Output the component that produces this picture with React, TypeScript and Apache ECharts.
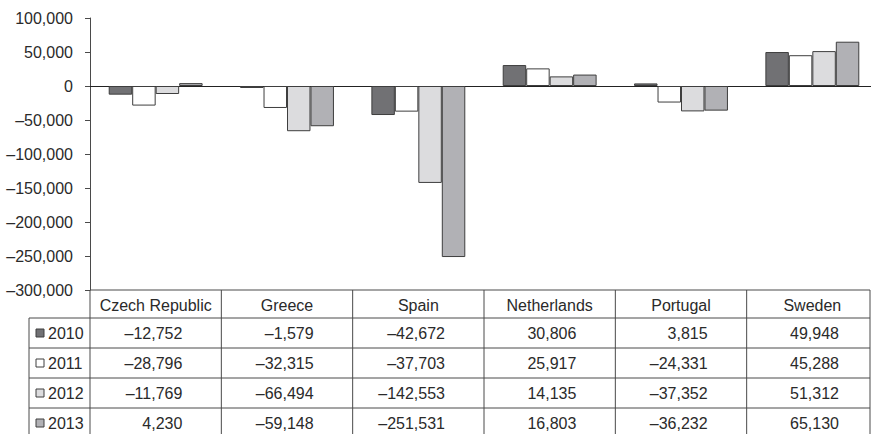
import React, { useEffect, useRef } from "react";
import * as echarts from "echarts";

const categories = ["Czech Republic", "Greece", "Spain", "Netherlands", "Portugal", "Sweden"];
const years = ["2010", "2011", "2012", "2013"];
const values2010 = [-12752, -1579, -42672, 30806, 3815, 49948];
const values2011 = [-28796, -32315, -37703, 25917, -24331, 45288];
const values2012 = [-11769, -66494, -142553, 14135, -37352, 51312];
const values2013 = [4230, -59148, -251531, 16803, -36232, 65130];
const seriesValues = [values2010, values2011, values2012, values2013];
const colors = ["#717174", "#ffffff", "#dcdcde", "#b1b1b5"];

const FONT = "'Liberation Sans', Arial, sans-serif";
const FS = 16;
const TEXT = "#2a2a2a";
const LINE = "#4a4a4a";

function fmt(v: number): string {
  const s = Math.abs(v).toLocaleString("en-US");
  return v < 0 ? "\u2013" + s : s;
}

export default function App() {
  const ref = useRef<HTMLDivElement>(null);
  useEffect(() => {
    if (!ref.current) return;
    const chart = echarts.init(ref.current, null, { renderer: "svg" });
    const option: any = {
      animation: false,
      backgroundColor: "#ffffff",
      grid: { left: 90, top: 18, width: 788, bottom: 144, containLabel: false, outerBoundsMode: "none" },
      xAxis: {
        type: "category",
        data: categories,
        axisLine: { show: true, onZero: true, lineStyle: { color: "#222", width: 1.2 } },
        axisTick: { show: false },
        axisLabel: { show: false },
        splitLine: { show: false },
      },
      yAxis: {
        type: "value",
        min: -300000,
        max: 100000,
        interval: 50000,
        axisLine: { show: true, lineStyle: { color: LINE, width: 1 } },
        axisTick: { show: true, length: 5, lineStyle: { color: LINE } },
        splitLine: { show: false },
        axisLabel: {
          formatter: (v: number) => fmt(v),
          color: TEXT,
          fontFamily: FONT,
          fontSize: FS,
          margin: 17,
        },
      },
      series: years.map((y, i) => ({
        name: y,
        type: "bar",
        data: seriesValues[i],
        barGap: "0%",
        barCategoryGap: "28.5%",
        barMinHeight: 2,
        itemStyle: { color: colors[i], borderColor: "#3e3e3e", borderWidth: 1 },
      })),
    };
    chart.setOption(option);

    const x0 = chart.convertToPixel({ xAxisIndex: 0 }, 0) as number;
    const x1 = chart.convertToPixel({ xAxisIndex: 0 }, 1) as number;
    const band = x1 - x0;
    const left = x0 - band / 2;
    const tableTop = chart.convertToPixel({ yAxisIndex: 0 }, -300000) as number;
    const headerH = 28;
    const rowH = 30;
    const legendLeft = 29;
    const rightEdge = 870;
    const bottom = tableTop + headerH + rowH * years.length + 2;

    const g: any[] = [];
    const ln = (xa: number, ya: number, xb: number, yb: number) => ({
      type: "line",
      shape: { x1: xa, y1: ya, x2: xb, y2: yb },
      style: { stroke: LINE, lineWidth: 1 },
      silent: true,
    });
    g.push(ln(left, tableTop, rightEdge, tableTop));
    for (let r = 0; r <= years.length; r++) {
      const y = tableTop + headerH + r * rowH;
      g.push(ln(legendLeft, y, rightEdge, y));
    }
    g.push(ln(legendLeft, tableTop + headerH, legendLeft, bottom));
    g.push(ln(left, tableTop, left, bottom));
    for (let c = 1; c < categories.length; c++) {
      const x = left + c * band;
      g.push(ln(x, tableTop, x, bottom));
    }
    g.push(ln(rightEdge, tableTop, rightEdge, bottom));

    categories.forEach((name, c) => {
      const cx = chart.convertToPixel({ xAxisIndex: 0 }, c) as number;
      g.push({
        type: "text",
        x: cx,
        y: tableTop + headerH / 2 + 1,
        style: { text: name, fill: TEXT, font: `${FS}px ${FONT}`, align: "center", verticalAlign: "middle" },
        silent: true,
      });
    });
    years.forEach((yr, r) => {
      const cy = tableTop + headerH + r * rowH + rowH / 2;
      g.push({
        type: "rect",
        shape: { x: 36, y: cy - 4, width: 8, height: 8 },
        style: { fill: colors[r], stroke: "#3e3e3e", lineWidth: 1 },
        silent: true,
      });
      g.push({
        type: "text",
        x: 48,
        y: cy,
        style: { text: yr, fill: TEXT, font: `${FS}px ${FONT}`, align: "left", verticalAlign: "middle" },
        silent: true,
      });
      seriesValues[r].forEach((v, c) => {
        const colEnd = left + (c + 1) * band;
        g.push({
          type: "text",
          x: colEnd - 39,
          y: cy,
          style: { text: fmt(v), fill: TEXT, font: `${FS}px ${FONT}`, align: "right", verticalAlign: "middle" },
          silent: true,
        });
      });
    });
    chart.setOption({ graphic: g });
    return () => chart.dispose();
  }, []);
  return (
    <div
      ref={ref}
      style={{ position: "fixed", left: 0, top: 0, width: 871, height: 434 }}
    />
  );
}
